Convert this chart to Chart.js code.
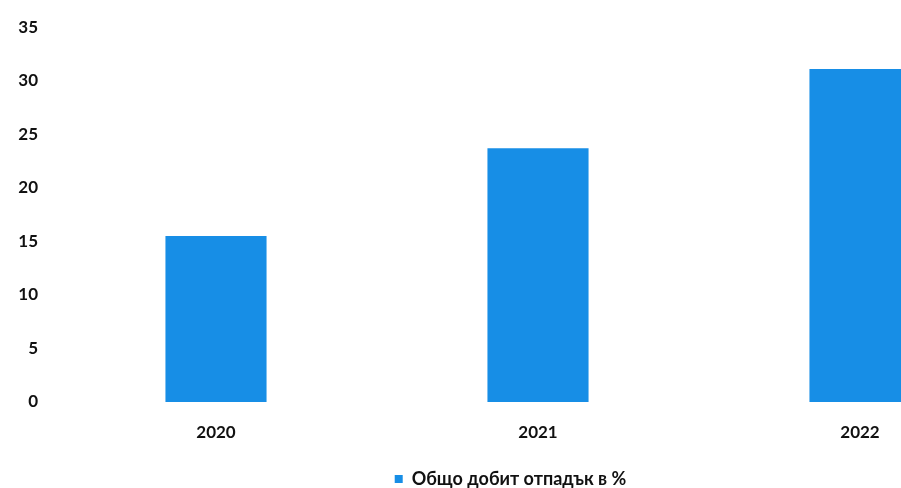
<!DOCTYPE html>
<html>
<head>
<meta charset="utf-8">
<script src="https://cdn.jsdelivr.net/npm/chart.js@4"></script>
<style>
  html, body { margin: 0; padding: 0; background: #fff; overflow: hidden; }
  #wrap { width: 1062px; height: 498px; position: relative; }
</style>
</head>
<body>
<div id="wrap"><canvas id="myChart"></canvas></div>
<script>
// Общо добит отпадък
const years = ['2020', '2021', '2022'];
const wastePct = [15.5, 23.7, 31.1];
const seriesName = 'Общо добит отпадък в %';

const ctx = document.getElementById('myChart');
new Chart(ctx, {
  type: 'bar',
  data: {
    labels: years,
    datasets: [{
      label: seriesName,
      data: wastePct,
      backgroundColor: '#178ee6',
      borderWidth: 0,
      barPercentage: 1,
      categoryPercentage: 0.314
    }]
  },
  options: {
    responsive: true,
    maintainAspectRatio: false,
    animation: false,
    layout: {
      padding: { top: 21, right: 41, bottom: 0, left: 0 }
    },
    plugins: {
      tooltip: { enabled: false },
      legend: {
        position: 'bottom',
        labels: {
          boxWidth: 8,
          boxHeight: 8,
          padding: 11,
          color: '#111',
          font: { family: 'Lato', size: 18, weight: 'bold' }
        }
      }
    },
    scales: {
      x: {
        grid: { display: false, drawTicks: false },
        border: { display: false },
        ticks: {
          padding: 20,
          color: '#111',
          font: { family: 'Lato', size: 17, weight: 'bold' }
        },
        afterFit: function (axis) { axis.height = 57; }
      },
      y: {
        min: 0,
        max: 35,
        grid: { display: false, drawTicks: false },
        border: { display: false },
        ticks: {
          stepSize: 5,
          padding: 17,
          color: '#111',
          font: { family: 'Lato', size: 17, weight: 'bold' }
        },
        afterFit: function (axis) { axis.width = 55; }
      }
    }
  }
});
</script>
</body>
</html>
